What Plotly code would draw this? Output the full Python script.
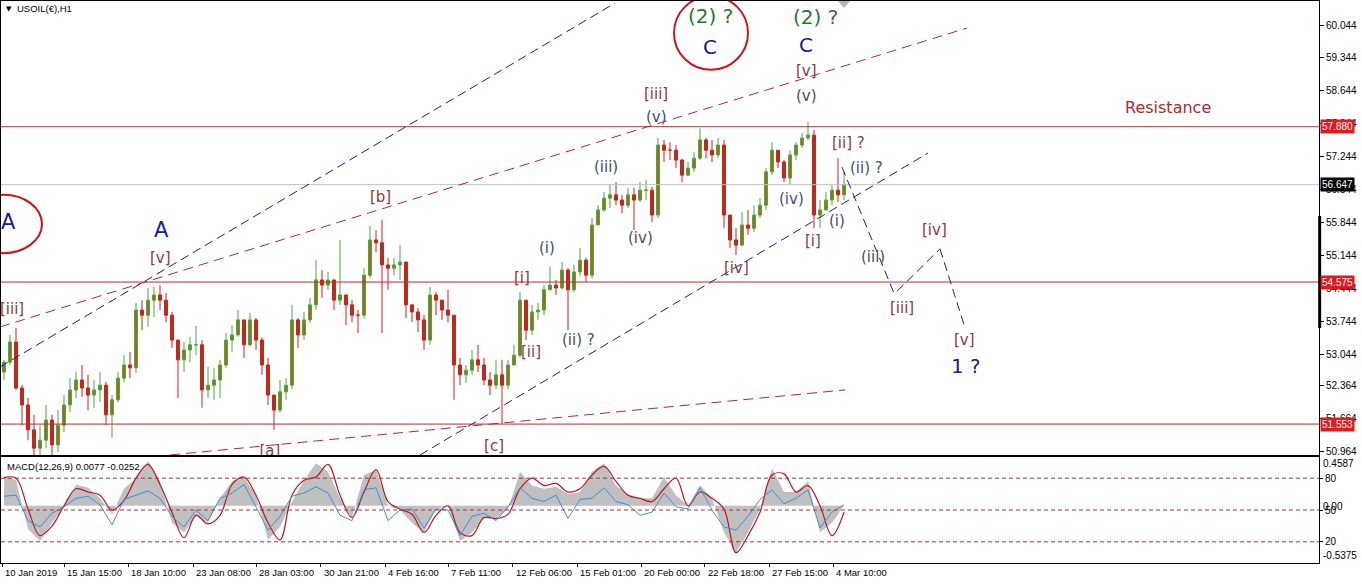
import plotly.graph_objects as go

# --- price data (6-hour candles) ---
closes = [52.87, 53.30, 52.32, 51.96, 51.43, 51.04, 51.21, 51.64, 51.11, 51.53,
          51.96, 52.28, 52.49, 52.32, 52.17, 52.28, 52.38, 51.75, 52.07, 52.53,
          52.81, 52.75, 53.98, 53.87, 54.19, 54.30, 54.19, 53.87, 53.34, 52.92,
          53.13, 53.24, 53.24, 52.28, 52.38, 52.49, 52.81, 53.34, 53.45, 53.77,
          53.24, 53.77, 53.34, 52.81, 52.17, 51.85, 52.24, 52.38, 53.77, 53.45,
          53.77, 54.09, 54.62, 54.51, 54.62, 54.19, 54.30, 54.09, 53.87, 53.87,
          54.72, 55.47, 55.41, 54.94, 54.87, 54.94, 55.00, 54.09, 53.94, 53.77,
          53.34, 54.30, 54.19, 53.98, 53.87, 52.81, 52.60, 52.70, 52.92, 52.81,
          52.49, 52.38, 52.60, 52.38, 52.81, 53.02, 54.19, 53.55, 53.94, 53.98,
          54.41, 54.51, 54.45, 54.83, 54.41, 54.79, 55.04, 54.72, 55.79, 56.11,
          56.36, 56.43, 56.32, 56.21, 56.43, 56.32, 56.53, 56.53, 56.00, 57.49,
          57.38, 57.38, 57.17, 56.85, 57.00, 57.21, 57.60, 57.38, 57.28, 57.49,
          56.00, 55.47, 55.36, 55.79, 55.72, 56.00, 56.21, 56.92, 57.38, 57.13,
          56.79, 57.28, 57.49, 57.64, 57.70, 56.00, 56.11, 56.32, 56.53, 56.43,
          56.65]
highs = [52.92, 53.45, 53.60, 52.38, 52.11, 51.75, 51.53, 51.96, 51.75, 51.85,
         52.17, 52.53, 52.66, 52.81, 52.60, 52.49, 52.66, 52.45, 52.17, 52.66,
         53.02, 53.09, 54.13, 54.19, 54.45, 54.47, 54.51, 54.34, 53.94, 53.34,
         53.30, 53.41, 53.64, 53.34, 52.77, 52.75, 52.92, 53.49, 53.66, 53.98,
         53.77, 53.92, 53.81, 53.40, 52.96, 52.17, 52.49, 52.53, 54.09, 53.81,
         53.94, 54.24, 55.04, 54.83, 54.79, 54.62, 55.47, 54.30, 54.19, 53.98,
         54.87, 55.77, 55.68, 55.90, 55.09, 55.09, 55.36, 55.00, 54.09, 54.02,
         53.87, 54.47, 54.36, 54.19, 54.41, 53.87, 52.96, 52.81, 53.13, 53.24,
         52.96, 52.66, 52.92, 52.92, 52.92, 53.24, 54.36, 54.19, 54.09, 54.13,
         54.51, 54.90, 54.62, 55.00, 54.87, 54.94, 55.30, 55.09, 55.94, 56.21,
         56.49, 56.64, 56.70, 56.43, 56.58, 56.58, 56.70, 56.75, 56.60, 57.64,
         57.60, 57.55, 57.49, 57.20, 57.13, 57.34, 57.85, 57.64, 57.60, 57.64,
         57.60, 56.00, 55.72, 56.07, 56.11, 56.21, 56.36, 57.00, 57.55, 57.38,
         57.17, 57.38, 57.55, 57.75, 57.98, 57.81, 56.32, 56.49, 56.64, 57.21,
         56.92]
lows = [52.49, 52.81, 52.28, 51.53, 51.21, 50.85, 50.82, 51.04, 50.86, 50.96,
        51.38, 51.81, 52.11, 52.13, 51.85, 51.90, 52.02, 51.53, 51.26, 52.02,
        52.45, 52.53, 52.64, 53.55, 53.62, 53.83, 53.98, 53.72, 53.17, 52.11,
        52.66, 52.87, 53.02, 51.90, 52.11, 52.07, 52.11, 52.75, 53.09, 53.41,
        52.96, 53.20, 53.13, 52.60, 51.96, 51.43, 51.80, 52.07, 52.30, 53.17,
        53.34, 53.70, 53.98, 54.24, 54.41, 53.98, 54.09, 53.66, 53.72, 53.49,
        53.80, 54.66, 55.21, 53.49, 54.41, 54.72, 54.62, 53.81, 53.72, 53.51,
        53.13, 53.24, 53.87, 53.77, 53.72, 52.07, 52.38, 52.43, 52.60, 52.66,
        52.38, 52.17, 52.30, 51.55, 52.30, 52.81, 52.98, 53.34, 53.45, 53.77,
        53.87, 54.41, 54.30, 54.41, 53.55, 54.36, 54.70, 54.58, 54.66, 55.79,
        56.07, 56.15, 56.21, 56.04, 56.15, 55.68, 56.28, 56.32, 55.85, 55.94,
        57.13, 57.17, 57.00, 56.70, 56.83, 56.92, 57.17, 57.21, 57.13, 57.21,
        55.72, 55.30, 55.15, 55.36, 55.58, 55.64, 55.94, 56.11, 56.85, 57.00,
        56.70, 56.66, 57.17, 57.43, 57.60, 55.72, 55.72, 56.11, 56.21, 56.28,
        56.32]
first_open = 52.66
opens = [first_open] + closes[:-1]

# --- lower window: MACD main (grey), signal (red), oscillator 0-100 (blue), every 2nd candle ---
macd_main = [0.275, 0.243, -0.22, -0.33, -0.16, -0.01, 0.20, 0.17, 0.07, -0.08,
             0.16, 0.26, 0.42, 0.23, -0.16, -0.25, -0.09, -0.16, 0.07, 0.23,
             0.27, 0.10, -0.32, -0.20, 0.04, 0.24, 0.40, 0.32, 0.07, -0.11,
             0.29, 0.34, 0.00, -0.04, -0.16, -0.25, -0.03, 0.00, -0.33, -0.25,
             -0.12, -0.12, -0.03, 0.32, 0.19, 0.16, 0.18, 0.11, 0.13, 0.32,
             0.40, 0.19, 0.11, 0.07, 0.07, 0.27, 0.10, 0.00, 0.19, 0.07,
             -0.25, -0.44, -0.25, -0.03, 0.35, 0.13, 0.13, 0.23, -0.25, -0.16, 0.00]
macd_signal = [0.265, 0.26, -0.03, -0.28, -0.19, 0.00, 0.16, 0.13, 0.10, -0.04,
               0.05, 0.26, 0.39, 0.20, -0.06, -0.30, -0.09, -0.17, -0.09, 0.20,
               0.27, 0.10, -0.16, -0.32, 0.10, 0.24, 0.27, 0.39, 0.10, -0.11,
               0.13, 0.34, 0.04, -0.03, -0.08, -0.25, -0.09, 0.00, -0.25, -0.28,
               -0.11, -0.12, -0.08, 0.16, 0.26, 0.19, 0.21, 0.13, 0.16, 0.29,
               0.37, 0.23, 0.10, 0.07, 0.04, 0.16, 0.26, 0.00, 0.13, 0.07,
               -0.03, -0.44, -0.28, -0.06, 0.29, 0.30, 0.13, 0.19, 0.00, -0.28, -0.06]
osc = [63, 64, 40, 34, 47, 53, 61, 63, 55, 36,
       60, 64, 68, 61, 44, 34, 50, 40, 61, 66,
       74, 53, 31, 44, 63, 66, 72, 66, 45, 40,
       69, 71, 40, 50, 51, 33, 51, 50, 26, 44,
       47, 40, 53, 71, 61, 58, 64, 42, 60, 61,
       71, 58, 55, 45, 48, 66, 53, 51, 71, 50,
       34, 31, 44, 60, 69, 56, 61, 69, 33, 48, 55]
osc_levels = [80, 50, 20]

# --- axes ---
price_ticks = [60.044, 59.344, 58.644, 57.944, 57.244, 56.544, 55.844, 55.144,
               54.444, 53.744, 53.044, 52.364, 51.664, 50.964]
price_boxes = [(57.880, "#e5171c"), (56.647, "#000000"), (54.575, "#e5171c"), (51.553, "#e5171c")]
red_levels = [57.880, 54.575, 51.553]
last_price = 56.647
time_labels = ["10 Jan 2019", "15 Jan 15:00", "18 Jan 10:00", "23 Jan 08:00", "28 Jan 03:00",
               "30 Jan 21:00", "4 Feb 16:00", "7 Feb 11:00", "12 Feb 06:00", "15 Feb 01:00",
               "20 Feb 00:00", "22 Feb 18:00", "27 Feb 15:00", "4 Mar 10:00"]
time_pos = [-0.33, 10.0, 20.67, 31.5, 42.0, 52.83, 63.5, 74.0, 84.83, 95.5,
            106.17, 116.83, 127.5, 138.17]

# trend / channel lines: (x0, p0, x1, p1, colour, dash)
NAVY = "#1b1b8f"
DRED = "#b8272b"
trend_lines = [
    (-0.67, 52.77, 101.83, 60.51, NAVY, "9px,5px"),
    (-0.67, 53.62, 160.5, 59.98, DRED, "10px,6px"),
    (27.67, 50.895, 140.17, 52.28, DRED, "10px,6px"),
    (69.33, 50.895, 154.0, 57.32, NAVY, "9px,5px"),
    (139.67, 57.02, 148.33, 54.34, NAVY, "9px,5px"),
    (148.83, 54.38, 156.0, 55.28, NAVY, "9px,5px"),
    (156.0, 55.28, 160.17, 53.60, NAVY, "9px,5px"),
]

BROWN = "#8f3b3b"
SLATE = "#3e5162"
BLUE = "#10209a"
GREEN = "#1e7b1e"
# wave labels: (text, x, price, colour, size)
wave_labels = [
    ("A", 0.67, 55.85, BLUE, 21),
    ("[iii]", 1.33, 54.00, BROWN, 15),
    ("A", 26.17, 55.68, BLUE, 21),
    ("[v]", 26.0, 55.09, BROWN, 15),
    ("[b]", 62.67, 56.38, BROWN, 15),
    ("[i]", 86.33, 54.66, BROWN, 15),
    ("[ii]", 87.83, 53.09, BROWN, 15),
    ("(i)", 90.5, 55.30, SLATE, 15),
    ("(ii) ?", 95.67, 53.34, SLATE, 15),
    ("(iii)", 100.33, 57.02, SLATE, 15),
    ("(iv)", 106.0, 55.51, SLATE, 15),
    ("[iii]", 108.67, 58.58, BROWN, 15),
    ("(v)", 108.83, 58.09, SLATE, 15),
    ("(2) ?", 117.67, 60.24, GREEN, 20),
    ("C", 117.67, 59.58, BLUE, 20),
    ("(2) ?", 135.33, 60.21, GREEN, 20),
    ("C", 133.67, 59.62, BLUE, 20),
    ("[v]", 133.83, 59.06, BROWN, 15),
    ("(v)", 133.67, 58.53, SLATE, 15),
    ("(iv)", 131.17, 56.34, SLATE, 15),
    ("[iv]", 122.0, 54.87, BROWN, 15),
    ("[i]", 134.83, 55.45, BROWN, 15),
    ("(i)", 138.83, 55.87, SLATE, 15),
    ("[ii] ?", 140.83, 57.53, BROWN, 15),
    ("(ii) ?", 143.67, 57.00, SLATE, 15),
    ("(iii)", 144.83, 55.11, SLATE, 15),
    ("[iii]", 149.67, 54.02, BROWN, 15),
    ("[iv]", 155.0, 55.68, BROWN, 15),
    ("[v]", 160.0, 53.34, BROWN, 15),
    ("1 ?", 160.33, 52.79, BLUE, 20),
    ("Resistance", 194.0, 58.28, "#b0282c", 16),
]
# labels that sit on the bottom edge and get cut by it
edge_labels = [("[a]", 44.33, 50.96), ("[c]", 81.67, 51.07)]

# ellipses round the circled labels: (x0, p0, x1, p1)
ellipses = [(-6.5, 55.19, 6.33, 56.43), (111.67, 59.09, 124.0, 60.66)]

W, H = 1362, 584
ML, MR, MT, MB = 1, 43, 1, 21
PW, PH = W - ML - MR, H - MT - MB


def px_x(px):
    return (px - ML) / PW


def px_y(py):
    return (H - MB - py) / PH


AXFONT = dict(family="Liberation Sans", size=10, color="#000000")
LABFONT = "DejaVu Sans"

fig = go.Figure()
fig.add_trace(go.Candlestick(
    x=list(range(len(closes))), open=opens, high=highs, low=lows, close=closes,
    increasing=dict(line=dict(color="#3fae3a", width=1), fillcolor="#a8671e"),
    decreasing=dict(line=dict(color="#e0181a", width=1), fillcolor="#9c3c1a"),
    whiskerwidth=0, xaxis="x", yaxis="y", hoverinfo="skip",
))

macd_x = list(range(0, len(closes), 2))
fig.add_trace(go.Scatter(x=macd_x, y=macd_main, mode="lines", fill="tozeroy",
                         fillcolor="#c0c0c0", line=dict(width=0, color="#c0c0c0"),
                         xaxis="x2", yaxis="y2", hoverinfo="skip"))
fig.add_trace(go.Scatter(x=macd_x, y=macd_signal, mode="lines", line_shape="spline",
                         line=dict(width=1.2, color="#c0161a"),
                         xaxis="x2", yaxis="y2", hoverinfo="skip"))
fig.add_trace(go.Scatter(x=macd_x, y=osc, mode="lines",
                         line=dict(width=1, color="#3b8fe0"),
                         xaxis="x2", yaxis="y3", hoverinfo="skip"))

for text, xv, pv in edge_labels:
    fig.add_trace(go.Scatter(x=[xv], y=[pv], mode="text", text=[text], cliponaxis=True,
                             textfont=dict(family=LABFONT, size=15, color=BROWN),
                             xaxis="x", yaxis="y", hoverinfo="skip"))

shapes = []
for lvl in red_levels:
    shapes.append(dict(type="line", xref="paper", x0=0, x1=1, yref="y", y0=lvl, y1=lvl,
                       line=dict(color="#c8262a", width=1)))
shapes.append(dict(type="line", xref="paper", x0=0, x1=1, yref="y", y0=last_price, y1=last_price,
                   line=dict(color="#c0c0c0", width=1)))
for x0, p0, x1, p1, col, dash in trend_lines:
    shapes.append(dict(type="line", xref="x", yref="y", x0=x0, y0=p0, x1=x1, y1=p1,
                       line=dict(color=col, width=1, dash=dash)))
for x0, p0, x1, p1 in ellipses:
    shapes.append(dict(type="circle", xref="x", yref="y", x0=x0, y0=p0, x1=x1, y1=p1,
                       line=dict(color="#c8161d", width=2)))
for lvl in osc_levels:
    shapes.append(dict(type="line", xref="paper", x0=0, x1=1, yref="y3", y0=lvl, y1=lvl,
                       line=dict(color="#c0282a", width=1, dash="4px,3px")))
# scroll bar on the price scale and chart-shift marker
shapes.append(dict(type="line", xref="paper", yref="paper", x0=1.0005, x1=1.0005,
                   y0=px_y(328), y1=px_y(216), line=dict(color="#000000", width=3)))
shapes.append(dict(type="path", xref="paper", yref="paper", fillcolor="#b4b4b4",
                   line=dict(width=0),
                   path=f"M {px_x(838)} {px_y(1)} L {px_x(850)} {px_y(1)} L {px_x(844)} {px_y(8)} Z"))

annotations = []
for text, xv, pv, col, size in wave_labels:
    annotations.append(dict(x=xv, y=pv, xref="x", yref="y", text=text, showarrow=False,
                            font=dict(family=LABFONT, size=size, color=col)))
for val, col in price_boxes:
    annotations.append(dict(x=1, y=val, xref="paper", yref="y", text=f"{val:.3f}",
                            showarrow=False, xanchor="left", xshift=1, bgcolor=col,
                            borderpad=1, font=dict(family="Liberation Sans", size=10, color="#ffffff")))
for text, xv in zip(time_labels, time_pos):
    annotations.append(dict(x=xv, y=px_y(572), xref="x2", yref="paper", text=text,
                            showarrow=False, xanchor="left", yanchor="middle", xshift=1,
                            font=dict(family="Liberation Sans", size=9.5, color="#000000")))
for text, py in [("0.4587", 463), ("0.00", 506), ("-0.5375", 555)]:
    annotations.append(dict(x=1, y=px_y(py), xref="paper", yref="paper", text=text,
                            showarrow=False, xanchor="left", yanchor="middle", xshift=2,
                            font=AXFONT))
annotations.append(dict(x=px_x(4), y=px_y(9), xref="paper", yref="paper", text="▼",
                        showarrow=False, xanchor="left", yanchor="middle",
                        font=dict(family="DejaVu Sans", size=7, color="#000000")))
annotations.append(dict(x=px_x(15), y=px_y(9), xref="paper", yref="paper", text="USOIL(€),H1",
                        showarrow=False, xanchor="left", yanchor="middle",
                        font=dict(family="Liberation Sans", size=9.5, color="#000000")))
annotations.append(dict(x=px_x(5), y=px_y(466), xref="paper", yref="paper",
                        text="MACD(12,26,9) 0.0077 -0.0252",
                        showarrow=False, xanchor="left", yanchor="middle",
                        font=dict(family="Liberation Sans", size=9.5, color="#000000")))

x_range = [-0.5, PW / 6 - 0.5]
main_bottom = px_y(455)
macd_top = px_y(457)
frame = dict(showline=True, mirror=True, linecolor="#000000", linewidth=1,
             showgrid=False, zeroline=False)

fig.update_layout(
    width=W, height=H, margin=dict(l=ML, r=MR, t=MT, b=MB),
    paper_bgcolor="#ffffff", plot_bgcolor="#ffffff", showlegend=False,
    shapes=shapes, annotations=annotations, hovermode=False,
    xaxis=dict(domain=[0, 1], anchor="y", range=x_range, showticklabels=False,
               rangeslider=dict(visible=False), ticks="", **frame),
    xaxis2=dict(domain=[0, 1], anchor="y2", matches="x", range=x_range,
                tickvals=time_pos, ticks="outside", ticklen=3, tickcolor="#000000",
                showticklabels=False, **frame),
    yaxis=dict(domain=[main_bottom, 1], anchor="x", side="right", range=[50.895, 60.555],
               tickvals=price_ticks, ticktext=[f"{v:.3f}" for v in price_ticks],
               ticks="outside", ticklen=4, tickcolor="#000000", tickfont=AXFONT, **frame),
    yaxis2=dict(domain=[0, macd_top], anchor="x2", range=[-0.5375, 0.4587],
                showticklabels=False, ticks="", **frame),
    yaxis3=dict(overlaying="y2", anchor="x2", side="right", range=[0, 100],
                tickvals=osc_levels, ticks="outside", ticklen=3, tickcolor="#000000",
                tickfont=AXFONT, showgrid=False, zeroline=False, showline=False),
)

# the page's default body margin would shift the chart by 8px
fig.write_html("out.html", config={"displayModeBar": False},
               post_script="document.body.style.margin='0';document.body.style.overflow='hidden';")
